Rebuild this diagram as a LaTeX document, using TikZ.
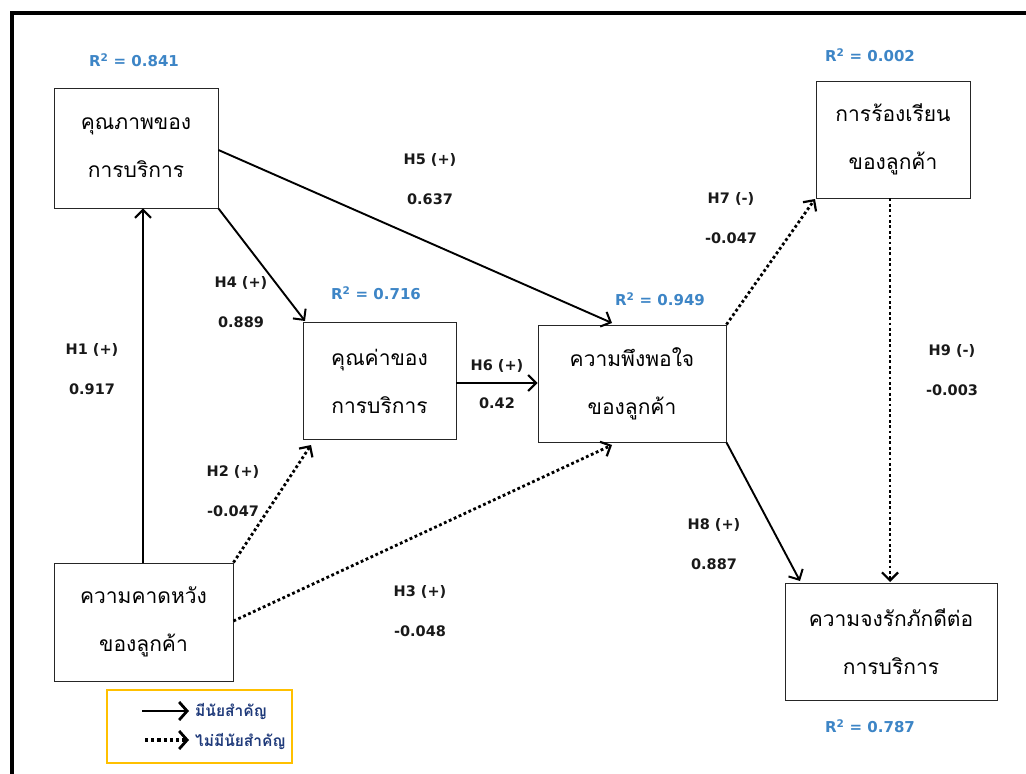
\documentclass[tikz,border=0pt]{standalone}
\usepackage{fontspec}
\setmainfont{DejaVu Sans}
\newfontfamily\thaifont[Script=Thai]{Loma}
\usetikzlibrary{arrows.meta}
\definecolor{rblue}{HTML}{3D85C6}
\definecolor{navy}{HTML}{1F3A7A}
\definecolor{legy}{HTML}{FFC000}
\tikzset{
  box/.style={draw=black!85, line width=0.9pt, minimum width=#1, align=center, font=\thaifont\fontsize{21}{48}\selectfont, inner sep=0pt},
  rlab/.style={text=rblue, font=\bfseries\fontsize{15}{18}\selectfont},
  hlab/.style={text=black!90, font=\bfseries\fontsize{14.5}{18}\selectfont},
  sig/.style={line width=1.9pt, -{Straight Barb[length=8pt,width=16pt,line width=2pt]}},
  nsig/.style={line width=2.8pt, dash pattern=on 2.8pt off 2.6pt, -{Straight Barb[length=8pt,width=16pt,line width=2.2pt]}},
}
\begin{document}
\begin{tikzpicture}[x=1pt,y=-1pt]
\useasboundingbox (0,0) rectangle (1026,774);
% frame
\draw[line width=4pt] (10,13) -- (1026,13);
\draw[line width=4pt] (12,11) -- (12,774);

% boxes
\node[box=164pt, minimum height=120pt] (qual) at (136,148) {คุณภาพของ\\การบริการ};
\node[box=153pt, minimum height=117pt] (val) at (379.5,381) {คุณค่าของ\\การบริการ};
\node[box=188pt, minimum height=117pt] (sat) at (632,383.5) {ความพึงพอใจ\\ของลูกค้า};
\node[box=154pt, minimum height=117pt] (comp) at (893,139.5) {การร้องเรียน\\ของลูกค้า};
\node[box=179pt, minimum height=118pt] (exp) at (143.5,622) {ความคาดหวัง\\ของลูกค้า};
\node[box=212pt, minimum height=117pt] (loy) at (891,641.5) {ความจงรักภักดีต่อ\\การบริการ};

% R2 labels
\node[rlab] (r1) at (134,60) {R\textsuperscript{2} = 0.841};
\node[rlab] (r2) at (376,293) {R\textsuperscript{2} = 0.716};
\node[rlab] (r3) at (660,299) {R\textsuperscript{2} = 0.949};
\node[rlab] (r4) at (870,55) {R\textsuperscript{2} = 0.002};
\node[rlab] (r5) at (870,726) {R\textsuperscript{2} = 0.787};

% coordinates
\coordinate (h1s) at (143,563);
\coordinate (h1e) at (143,208);
\coordinate (h5s) at (218,150);
\coordinate (h5e) at (612,323);
\coordinate (h4e) at (305,321);
\coordinate (h2e) at (311,445);
\coordinate (h3s) at (233,621);
\coordinate (h3e) at (612,445);
\coordinate (h6s) at (456,383);
\coordinate (h6e) at (538,383);
\coordinate (h8e) at (800,581);
\coordinate (h9s) at (890,198);
\coordinate (h9e) at (890,582);
\coordinate (h7e) at (815,199);

% connectors
\draw[sig] (exp.north -| h1s) -- (qual.south -| h1e);
\draw[sig] (qual.east |- h5s) -- (h5e);
\draw[sig] (qual.south east) -- (h4e);
\draw[nsig] (exp.north east) -- (h2e);
\draw[nsig] (exp.east |- h3s) -- (h3e);
\draw[sig] (val.east |- h6s) -- (sat.west |- h6e);
\draw[nsig] (sat.north east) -- (h7e);
\draw[sig] (sat.south east) -- (h8e);
\draw[nsig] (comp.south -| h9s) -- (h9e);

% path labels
\node[hlab] (l1a) at (92,350) {H1 (+)};
\node[hlab] (l1b) at (92,389) {0.917};
\node[hlab] (l5a) at (430,160) {H5 (+)};
\node[hlab] (l5b) at (430,199) {0.637};
\node[hlab] (l4a) at (241,283) {H4 (+)};
\node[hlab] (l4b) at (241,322) {0.889};
\node[hlab] (l2a) at (233,472) {H2 (+)};
\node[hlab] (l2b) at (233,511) {-0.047};
\node[hlab] (l3a) at (420,592) {H3 (+)};
\node[hlab] (l3b) at (420,631) {-0.048};
\node[hlab] (l6a) at (497,366) {H6 (+)};
\node[hlab] (l6b) at (497,403) {0.42};
\node[hlab] (l7a) at (731,199) {H7 (-)};
\node[hlab] (l7b) at (731,238) {-0.047};
\node[hlab] (l8a) at (714,525) {H8 (+)};
\node[hlab] (l8b) at (714,564) {0.887};
\node[hlab] (l9a) at (952,351) {H9 (-)};
\node[hlab] (l9b) at (952,390) {-0.003};

% legend
\node[draw=legy, line width=2.2pt, minimum width=185pt, minimum height=73pt, inner sep=0pt] (leg) at (199.5,726.5) {};
\coordinate (ls1) at (142,711);
\coordinate (le1) at (189,711);
\coordinate (ls2) at (145,740);
\coordinate (le2) at (189,740);
\draw[line width=2.8pt, -{Straight Barb[length=8pt,width=18pt,line width=2.8pt]}] (ls1) -- (le1);
\draw[line width=3.2pt, dash pattern=on 3.2pt off 3pt, -{Straight Barb[length=8pt,width=18pt,line width=2.8pt]}] (ls2) -- (le2);
\node[anchor=west, text=navy, font=\thaifont\bfseries\fontsize{15.5}{18}\selectfont, inner sep=0pt] (lt1) at (195,712) {มีนัยสำคัญ};
\node[anchor=west, text=navy, font=\thaifont\bfseries\fontsize{15.5}{18}\selectfont, inner sep=0pt] (lt2) at (195,742) {ไม่มีนัยสำคัญ};
\end{tikzpicture}
\end{document}
